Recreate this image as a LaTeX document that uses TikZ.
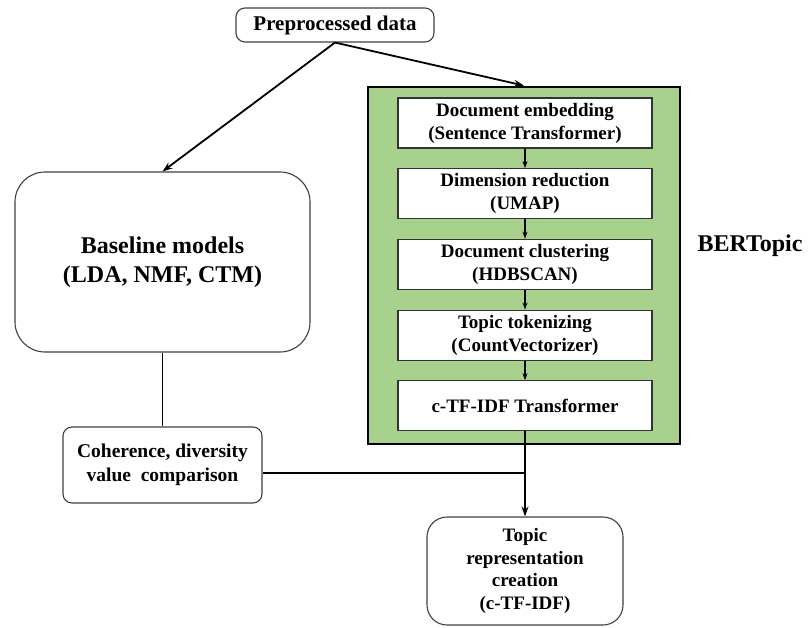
\documentclass[tikz,border=0pt]{standalone}
\usepackage{fontspec}
\setmainfont{Liberation Serif}
\usetikzlibrary{positioning, arrows.meta, backgrounds}
\definecolor{bertgreen}{HTML}{A9D18E}

\tikzset{
  roundbox/.style={rectangle, rounded corners=9pt, draw=black!75, line width=1.1pt, fill=white, align=center, inner sep=2pt, font=\bfseries\fontsize{19}{22.5}\selectfont},
  stagebox/.style={rectangle, draw=black!80, line width=1.2pt, fill=white, minimum width=254pt, minimum height=50pt, inner sep=0pt, align=center, font=\bfseries\fontsize{19}{23}\selectfont},
  flow/.style={-{Stealth[length=10pt,width=7pt]}, line width=1.8pt},
  smallflow/.style={-{Stealth[length=7pt,width=5pt]}, line width=1.1pt},
  link/.style={line width=1.8pt},
}

\begin{document}
\begin{tikzpicture}[x=1pt, y=-1pt]
\useasboundingbox (0,0) rectangle (808,628);
\node[roundbox, minimum width=198pt, minimum height=34pt, font=\bfseries\fontsize{21}{24}\selectfont] (prep) at (335,25) {Preprocessed data};
\node[draw=black, line width=2.8pt, fill=bertgreen, minimum width=312pt, minimum height=357pt] (bert) at (524,265.5) {};
\node[font=\bfseries\fontsize{24}{28}\selectfont] (bert_title) at (750,246) {BERTopic};
\node[stagebox] (embed) at (525,123) {Document embedding\\(Sentence Transformer)};
\node[stagebox, below=19.5pt of embed] (reduce) {Dimension reduction\\(UMAP)};
\node[stagebox, below=19.5pt of reduce] (cluster) {Document clustering\\(HDBSCAN)};
\node[stagebox, below=19.5pt of cluster] (tokens) {Topic tokenizing\\(CountVectorizer)};
\node[stagebox, below=19.5pt of tokens] (tfidf) {c-TF-IDF Transformer};
\node[roundbox, rounded corners=30pt, minimum width=295pt, minimum height=180pt, font=\bfseries\fontsize{24}{29}\selectfont] (baseline) at (162.5,262) {Baseline models\\(LDA, NMF, CTM)};
\node[roundbox, minimum width=199pt, minimum height=76pt, font=\bfseries\fontsize{19.5}{24}\selectfont] (compare) at (162.5,465) {Coherence, diversity\\value\ \ comparison};
\node[roundbox, rounded corners=20pt, minimum width=196pt, minimum height=108pt] (topic) at (525,571) {Topic\\representation\\creation\\(c-TF-IDF)};

\draw[flow] (prep.south) -- (baseline.north);
\draw[flow] (prep.south) -- (bert.north);
\foreach \a/\b in {embed/reduce, reduce/cluster, cluster/tokens, tokens/tfidf}
  \draw[smallflow] (\a) -- (\b);
\draw[link] (baseline.south) -- (compare.north);
\draw[flow] (tfidf.south) -- (topic.north);
\draw[link] ([yshift=-8pt]compare.east) -- ([yshift=-8pt]compare.east -| tfidf.south);
\end{tikzpicture}
\end{document}
